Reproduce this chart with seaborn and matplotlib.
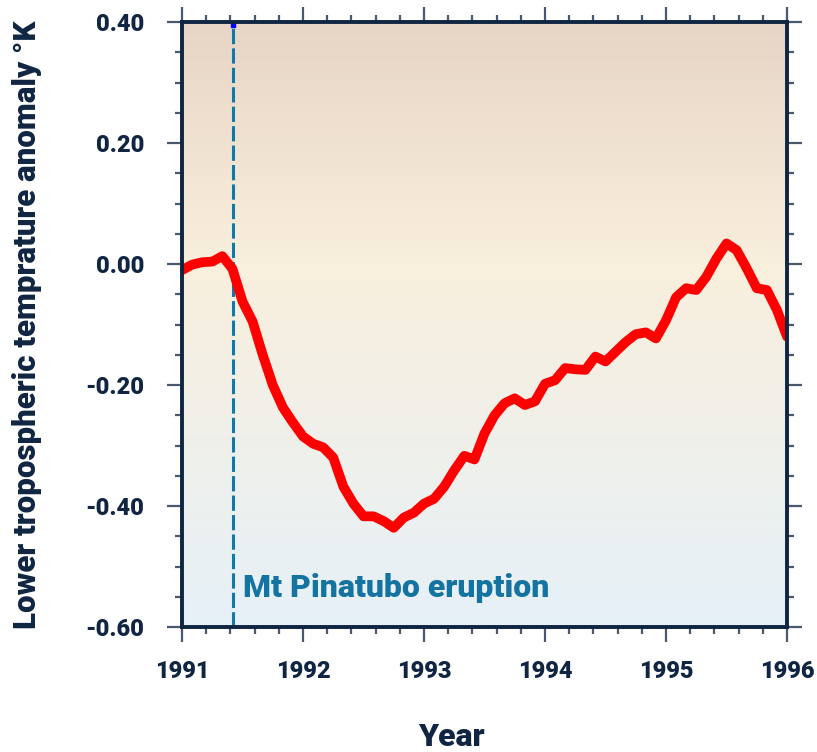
import numpy as np
import pandas as pd
import matplotlib
matplotlib.use("Agg")
import matplotlib.pyplot as plt
import seaborn as sns
from matplotlib.colors import LinearSegmentedColormap
from matplotlib.ticker import MultipleLocator

# monthly anomalies, Jan 1991 .. Jan 1996
anomalias = [
    -0.010, -0.001, 0.003, 0.004, 0.013, -0.008, -0.062, -0.095, -0.150, -0.200,
    -0.237, -0.262, -0.285, -0.297, -0.303, -0.320, -0.368, -0.396, -0.417, -0.417,
    -0.425, -0.436, -0.419, -0.411, -0.396, -0.388, -0.368, -0.341, -0.317, -0.323,
    -0.280, -0.250, -0.230, -0.222, -0.233, -0.227, -0.198, -0.192, -0.172, -0.174,
    -0.175, -0.153, -0.161, -0.145, -0.129, -0.116, -0.113, -0.123, -0.093, -0.055,
    -0.040, -0.043, -0.021, 0.009, 0.034, 0.023, -0.007, -0.040, -0.043, -0.076,
    -0.120,
]
anios = 1991 + np.arange(len(anomalias)) / 12
erupcion = 1991.42
ticks_x = [1991, 1992, 1993, 1994, 1995, 1996]
ticks_y = [0.40, 0.20, 0.00, -0.20, -0.40, -0.60]

df = pd.DataFrame({"Year": anios, "Anomaly": anomalias})

sns.set_style("ticks")
plt.rcParams["font.family"] = ["Roboto", "DejaVu Sans"]
plt.rcParams["lines.scale_dashes"] = False

navy = "#0f2542"
tickc = "#4a5a6e"
peso = 900

fig = plt.figure(figsize=(8.17, 7.52), dpi=100)
ax = fig.add_axes([0.2228, 0.1662, 0.9633 - 0.2228, 0.9707 - 0.1662])

# fondo degradado
cmap = LinearSegmentedColormap.from_list(
    "fondo", [(0.0, "#e6f1f8"), (0.6, "#f9efdd"), (1.0, "#e7d5c5")])
grad = np.linspace(0, 1, 256).reshape(-1, 1)
ax.imshow(grad, aspect="auto", cmap=cmap, origin="lower",
          extent=[0, 1, 0, 1], transform=ax.transAxes, zorder=0)

ax.axvline(erupcion, color="#1577a3", lw=2.2, ls=(0, (11, 3)), zorder=2)
ax.plot([erupcion], [0.395], marker="s", ms=3, color="blue", zorder=3)

sns.lineplot(data=df, x="Year", y="Anomaly", ax=ax, color="#ff0000",
             linewidth=7, solid_capstyle="round", solid_joinstyle="round",
             zorder=4)

ax.text(1991.5, -0.535, "Mt Pinatubo eruption", color="#1473a0",
        fontsize=23, fontweight=peso, va="center", ha="left")

ax.set_xlim(1991, 1996)
ax.set_ylim(-0.6, 0.4)
ax.set_xticks(ticks_x)
ax.set_xticklabels([str(t) for t in ticks_x])
ax.set_yticks(ticks_y)
ax.set_yticklabels([f"{t:.2f}" for t in ticks_y])
ax.xaxis.set_minor_locator(MultipleLocator(0.2))
ax.yaxis.set_minor_locator(MultipleLocator(0.05))

ax.tick_params(which="both", direction="out", top=True, right=True,
               color=tickc, width=1.6, labelcolor=navy)
ax.tick_params(which="major", length=11, labelsize=17)
ax.tick_params(axis="x", which="major", pad=13)
ax.tick_params(axis="y", which="major", pad=16)
ax.tick_params(which="minor", length=5)
for lab in ax.get_xticklabels() + ax.get_yticklabels():
    lab.set_fontweight(peso)

for s in ax.spines.values():
    s.set_color(navy)
    s.set_linewidth(2.8)
    s.set_zorder(5)

ax.set_xlabel("Year", fontsize=23, fontweight=peso, color=navy, labelpad=28)
ax.xaxis.label.set_x(0.445)
ax.set_ylabel("Lower tropospheric temprature anomaly °K", fontsize=22.5,
              fontweight=peso, color=navy, labelpad=31)

fig.savefig("out.png", dpi=100)
